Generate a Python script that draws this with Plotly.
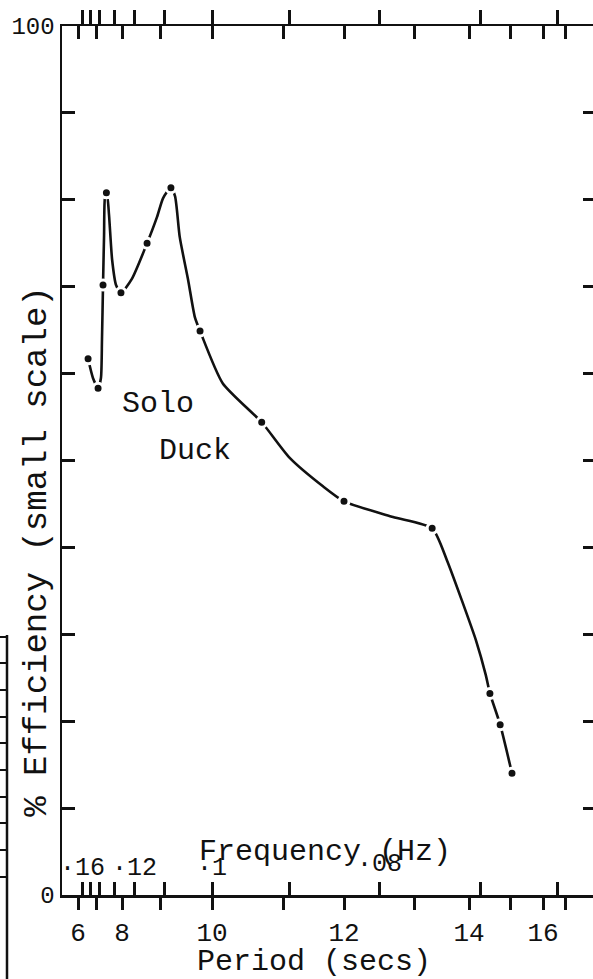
import numpy as np
import plotly.graph_objects as go

# ---- axis scale of the original drawing (period axis is non-linear) ----
period_ticks = [6, 7, 8, 9, 10, 11, 12, 13, 14, 15, 16, 17]
period_axis_pos = [16, 34, 60, 98, 150, 221, 282, 352, 407, 448, 481, 503]
period_tick_labels = ["6", "", "8", "", "10", "", "12", "", "14", "", "16", ""]
freq_ticks = [0.16, 0.15, 0.14, 0.13, 0.12, 0.11, 0.10, 0.09, 0.08, 0.07, 0.06]
freq_label_values = [0.16, 0.12, 0.10, 0.08]
freq_label_text = ["·16", "·12", "·1", "·08"]
eff_ticks = [0, 10, 20, 30, 40, 50, 60, 70, 80, 90, 100]
eff_tick_labels = ["0", "", "", "", "", "", "", "", "", "", "100"]

# ---- Solo Duck efficiency curve (period in s, efficiency in %) ----
period = [6.56, 6.83, 7.08, 7.19, 7.23, 7.27, 7.31, 7.35, 7.42, 7.50, 7.62, 7.77,
          7.96, 8.26, 8.66, 8.92, 9.06, 9.21, 9.29, 9.38, 9.54, 9.67, 9.77,
          10.15, 10.70, 11.11, 11.66, 12.00, 12.70, 13.33, 13.60, 13.87, 14.17,
          14.41, 14.51, 14.76, 15.06]
efficiency = [61.7, 59.5, 58.3, 59.5, 63.9, 70.2, 75.9, 80.4, 80.7, 78.3, 73.1, 70.2,
              69.3, 70.9, 75.0, 78.0, 80.2, 81.4, 80.4, 75.7, 70.8, 66.5, 64.9,
              58.9, 54.4, 50.3, 47.0, 45.3, 43.5, 42.2, 38.5, 33.9, 29.3,
              25.3, 23.2, 19.6, 14.0]
# measured points drawn as dots
dot_period = [6.56, 7.08, 7.27, 7.40, 7.96, 8.66, 9.21, 9.77, 10.70, 12.00, 13.33, 14.51, 14.76, 15.06]
dot_eff = [61.7, 58.3, 70.2, 80.8, 69.3, 75.0, 81.4, 64.9, 54.4, 45.3, 42.2, 23.2, 19.6, 14.0]


def to_axis(p):
    return np.interp(np.asarray(p, dtype=float), period_ticks, period_axis_pos)


INK = "#111111"
FONT = "Liberation Mono, Courier New, monospace"
XR = [0, 534]
ML, MR, MT, MB = 62, 1, 26, 84
FW, FH = 597, 979

fig = go.Figure()
fig.add_trace(go.Scatter(x=to_axis(period), y=efficiency, mode="lines",
                         line=dict(color=INK, width=2.6, shape="spline", smoothing=0.6),
                         hoverinfo="skip", showlegend=False))
fig.add_trace(go.Scatter(x=to_axis(dot_period), y=dot_eff, mode="markers",
                         marker=dict(color=INK, size=10, line=dict(color="white", width=3)),
                         hoverinfo="skip", showlegend=False))
# invisible anchors so the extra axes are drawn
for xa, ya in [("x2", "y"), ("x3", "y"), ("x4", "y"), ("x", "y2")]:
    fig.add_trace(go.Scatter(x=[10], y=[0], xaxis=xa, yaxis=ya, mode="markers",
                             marker=dict(opacity=0), hoverinfo="skip", showlegend=False))

common_x = dict(range=XR, showgrid=False, zeroline=False, tickcolor=INK,
                tickwidth=3, linecolor=INK, linewidth=2.5)

fig.update_layout(
    width=FW, height=FH,
    margin=dict(l=ML, r=MR, t=MT, b=MB),
    paper_bgcolor="white", plot_bgcolor="white",
    font=dict(family=FONT, color=INK),
    xaxis=dict(**common_x, side="bottom", anchor="y", showline=True,
               ticks="outside", ticklen=12, tickmode="array",
               tickvals=to_axis(period_ticks), ticktext=period_tick_labels,
               tickfont=dict(size=26, family=FONT, color=INK)),
    xaxis2=dict(**common_x, overlaying="x", side="bottom", anchor="y",
                showline=False, ticks="inside", ticklen=13, tickmode="array",
                tickvals=to_axis(1.0 / np.array(freq_ticks)), showticklabels=False),
    xaxis3=dict(**common_x, overlaying="x", side="top", anchor="y",
                showline=True, ticks="inside", ticklen=13, tickmode="array",
                tickvals=to_axis(period_ticks), showticklabels=False),
    xaxis4=dict(**common_x, overlaying="x", side="top", anchor="y",
                showline=False, ticks="outside", ticklen=15, tickmode="array",
                tickvals=to_axis(1.0 / np.array(freq_ticks)), showticklabels=False),
    yaxis=dict(range=[0, 100], showgrid=False, zeroline=False, showline=True,
               linecolor=INK, linewidth=2.5, ticks="inside", ticklen=13,
               tickwidth=3, tickcolor=INK, tickmode="array", tickvals=eff_ticks,
               ticktext=eff_tick_labels, tickfont=dict(size=24, family=FONT, color=INK)),
    yaxis2=dict(range=[0, 100], overlaying="y", side="right", anchor="x",
                showgrid=False, zeroline=False, showline=False, ticks="inside",
                ticklen=13, tickwidth=3, tickcolor=INK, tickmode="array",
                tickvals=eff_ticks[1:-1], showticklabels=False),
)

annotations = []
for f, t in zip(freq_label_values, freq_label_text):
    annotations.append(dict(x=float(to_axis(1.0 / f)), y=3.0 if f != 0.08 else 3.5,
                            xref="x", yref="y", text=t, showarrow=False,
                            xanchor="center", yanchor="middle",
                            font=dict(size=25, family=FONT, color=INK)))
annotations += [
    dict(x=263, y=4.9, xref="x", yref="y", text="Frequency (Hz)", showarrow=False,
         xanchor="center", yanchor="middle", font=dict(size=30, family=FONT, color=INK)),
    dict(x=0.472, y=-0.077, xref="paper", yref="paper", text="Period (secs)",
         showarrow=False, xanchor="center", yanchor="middle",
         font=dict(size=30, family=FONT, color=INK)),
    dict(x=-0.047, y=0.396, xref="paper", yref="paper",
         text="% Efficiency (small scale)", textangle=-90, showarrow=False,
         xanchor="center", yanchor="middle", font=dict(size=34, family=FONT, color=INK)),
    dict(x=96, y=56.5, xref="x", yref="y", text="Solo", showarrow=False,
         xanchor="center", yanchor="middle", font=dict(size=30, family=FONT, color=INK)),
    dict(x=133, y=51.1, xref="x", yref="y", text="Duck", showarrow=False,
         xanchor="center", yanchor="middle", font=dict(size=30, family=FONT, color=INK)),
]
fig.update_layout(annotations=annotations)

# fragment of the neighbouring figure at the far left edge (page pixels -> paper)
plot_w = FW - ML - MR
plot_h = FH - MT - MB


def px_x(px):
    return (px - ML) / plot_w


def px_y(py):
    return (FH - MB - py) / plot_h


shapes = [dict(type="line", xref="paper", yref="paper", x0=px_x(7), x1=px_x(7),
               y0=px_y(635), y1=px_y(979), line=dict(color=INK, width=2.5))]
for py in [637, 663, 690, 717, 743, 770, 797, 823, 850, 877]:
    shapes.append(dict(type="line", xref="paper", yref="paper", x0=px_x(0), x1=px_x(7),
                       y0=px_y(py), y1=px_y(py), line=dict(color=INK, width=2)))
fig.update_layout(shapes=shapes)

fig.write_html("out.html",
               config={"displayModeBar": False, "staticPlot": True},
               post_script="document.documentElement.style.overflow='hidden';"
                           "document.body.style.margin='0';"
                           "document.body.style.overflow='hidden';")
